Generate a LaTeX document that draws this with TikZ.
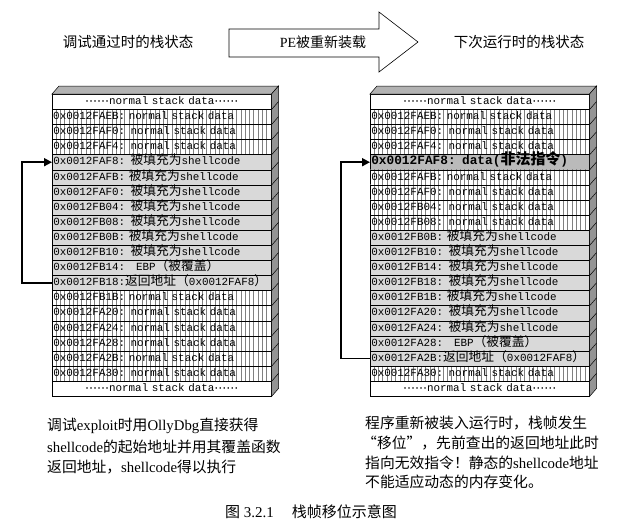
\documentclass[tikz,border=0pt]{standalone}
\usepackage{fontspec}
\setmainfont{Liberation Serif}
\setmonofont{Liberation Mono}
\newfontfamily\zh{Noto Sans CJK SC}
\newfontfamily\zhrow{Noto Sans CJK SC}[Scale=1.17]
\usetikzlibrary{patterns.meta,arrows.meta,calc}

\newcommand\rowfont{\ttfamily\fontsize{10.9}{12}\selectfont}
\newcommand\capfont{\fontsize{14.8}{20}\selectfont}

% one cell of a stack: name, left x, row index, style, text
\newcommand\stackrow[5]{%
  \node[row,#4] (#1) at (#2,{94+15.1*#3}) {#5};}

\tikzset{
  row/.style={draw=black, line width=0.5pt, anchor=north west,
    minimum height=15.1pt, inner xsep=1pt, inner ysep=0pt,
    text width=217pt, align=left, text height=7.5pt, text depth=2pt,
    font=\rowfont},
  plain/.style={fill=white, align=center},
  hatch/.style={pattern={Lines[angle=90,distance=4.3pt,line width=0.45pt]},
    pattern color=black!50},
  shell/.style={fill=black!15},
  bad/.style={fill=black!27, font=\ttfamily\bfseries\fontsize{12.8}{13}\selectfont},
  topface/.style={fill=black!30, draw=black, line width=0.5pt},
  sideface/.style={fill=black!42, draw=black, line width=0.5pt},
  conn/.style={line width=1.7pt, -{Triangle[length=8pt,width=8pt]}},
  label/.style={font=\zh\fontsize{14.5}{16}\selectfont, inner sep=0pt},
}

\newcommand\shellrow{{\zhrow 被填充为}shellcode}
\newcommand\normrow{normal stack data}
\newcommand\middots{\makebox[4pt]{·}\makebox[4pt]{·}\makebox[4pt]{·}%
  \makebox[4pt]{·}\makebox[4pt]{·}\makebox[4pt]{·}}
\newcommand\edgerow{\middots normal stack data\middots}

\begin{document}
\begin{tikzpicture}[x=1pt,y=-1pt]
\useasboundingbox (0,0) rectangle (620,528);

% headline labels and the reload arrow
\node[label] (lefttitle) at (128,42) {调试通过时的栈状态};
\node[label] (righttitle) at (519,42) {下次运行时的栈状态};
\draw[fill=white, line width=0.6pt] (229,29) -- (379,29) -- (379,12) -- (418,42)
  -- (379,72) -- (379,57) -- (229,57) -- cycle;
\node[inner sep=0pt, font=\fontsize{14}{16}\selectfont] (reload) at (323,42) {PE{\zh 被重新装载}};

% ---------- stack during debugging ----------
\stackrow{L0}{52}{0}{plain}{\edgerow}
\stackrow{L1}{52}{1}{hatch}{0x0012FAEB: \normrow}
\stackrow{L2}{52}{2}{hatch}{0x0012FAF0: \normrow}
\stackrow{L3}{52}{3}{hatch}{0x0012FAF4: \normrow}
\stackrow{L4}{52}{4}{shell}{0x0012FAF8: \shellrow}
\stackrow{L5}{52}{5}{shell}{0x0012FAFB: \shellrow}
\stackrow{L6}{52}{6}{shell}{0x0012FAF0: \shellrow}
\stackrow{L7}{52}{7}{shell}{0x0012FB04: \shellrow}
\stackrow{L8}{52}{8}{shell}{0x0012FB08: \shellrow}
\stackrow{L9}{52}{9}{shell}{0x0012FB0B: \shellrow}
\stackrow{L10}{52}{10}{shell}{0x0012FB10: \shellrow}
\stackrow{L11}{52}{11}{shell}{0x0012FB14:\ \ \ EBP{\zhrow （被覆盖）}}
\stackrow{L12}{52}{12}{shell}{0x0012FB18:{\zhrow 返回地址（}0x0012FAF8{\zhrow ）}}
\stackrow{L13}{52}{13}{hatch}{0x0012FB1B: \normrow}
\stackrow{L14}{52}{14}{hatch}{0x0012FA20: \normrow}
\stackrow{L15}{52}{15}{hatch}{0x0012FA24: \normrow}
\stackrow{L16}{52}{16}{hatch}{0x0012FA28: \normrow}
\stackrow{L17}{52}{17}{hatch}{0x0012FA2B: \normrow}
\stackrow{L18}{52}{18}{hatch}{0x0012FA30: \normrow}
\stackrow{L19}{52}{19}{plain}{\edgerow}

% ---------- stack on the next run ----------
\stackrow{R0}{370}{0}{plain}{\edgerow}
\stackrow{R1}{370}{1}{hatch}{0x0012FAEB: \normrow}
\stackrow{R2}{370}{2}{hatch}{0x0012FAF0: \normrow}
\stackrow{R3}{370}{3}{hatch}{0x0012FAF4: \normrow}
\stackrow{R4}{370}{4}{bad}{0x0012FAF8: data({\zhrow\bfseries 非法指令})}
\stackrow{R5}{370}{5}{hatch}{0x0012FAFB: \normrow}
\stackrow{R6}{370}{6}{hatch}{0x0012FAF0: \normrow}
\stackrow{R7}{370}{7}{hatch}{0x0012FB04: \normrow}
\stackrow{R8}{370}{8}{hatch}{0x0012FB08: \normrow}
\stackrow{R9}{370}{9}{shell}{0x0012FB0B: \shellrow}
\stackrow{R10}{370}{10}{shell}{0x0012FB10: \shellrow}
\stackrow{R11}{370}{11}{shell}{0x0012FB14: \shellrow}
\stackrow{R12}{370}{12}{shell}{0x0012FB18: \shellrow}
\stackrow{R13}{370}{13}{shell}{0x0012FB1B: \shellrow}
\stackrow{R14}{370}{14}{shell}{0x0012FA20: \shellrow}
\stackrow{R15}{370}{15}{shell}{0x0012FA24: \shellrow}
\stackrow{R16}{370}{16}{shell}{0x0012FA28:\ \ \ EBP{\zhrow （被覆盖）}}
\stackrow{R17}{370}{17}{shell}{0x0012FA2B:{\zhrow 返回地址（}0x0012FAF8{\zhrow ）}}
\stackrow{R18}{370}{18}{hatch}{0x0012FA30: \normrow}
\stackrow{R19}{370}{19}{plain}{\edgerow}

% 3D top and side faces of both stacks
\foreach \s in {L,R}{
  \draw[topface] (\s0.north west) -- ++(7,-8) -- ($(\s0.north east)+(7,-8)$)
    -- (\s0.north east) -- cycle;
  \draw[sideface] (\s0.north east) -- ++(7,-8) -- ($(\s19.south east)+(7,-8)$)
    -- (\s19.south east) -- cycle;
  \foreach \i in {0,...,18}{
    \draw[line width=0.5pt] (\s\i.south east) -- ++(7,-8);
  }
}

% return address points back into the stack
\draw[conn] (L12.west) -- ++(-30,0) |- (L4.west);
\draw[conn] (R17.west) -- ++(-29,0) |- (R4.west);

% explanations
\begin{scope}[every node/.style={anchor=west, inner sep=0pt, font=\capfont}]
\node (l1) at (47,426) {{\zh 调试}exploit{\zh 时用}OllyDbg{\zh 直接获得}};
\node (l2) at (47,447) {shellcode{\zh 的起始地址并用其覆盖函数}};
\node (l3) at (47,467) {{\zh 返回地址，}shellcode{\zh 得以执行}};
\node (r1) at (365,423) {\zh 程序重新被装入运行时，栈帧发生};
\node (r2) at (362,443) {\zh “移位”，先前查出的返回地址此时};
\node (r3) at (365,463) {{\zh 指向无效指令！静态的}shellcode{\zh 地址}};
\node (r4) at (365,482) {\zh 不能适应动态的内存变化。};
\end{scope}
\node[inner sep=0pt, font=\fontsize{15}{17}\selectfont] (fig) at (311,512)
  {{\zh 图} 3.2.1\hspace{18pt}{\zh 栈帧移位示意图}};
\end{tikzpicture}
\end{document}
